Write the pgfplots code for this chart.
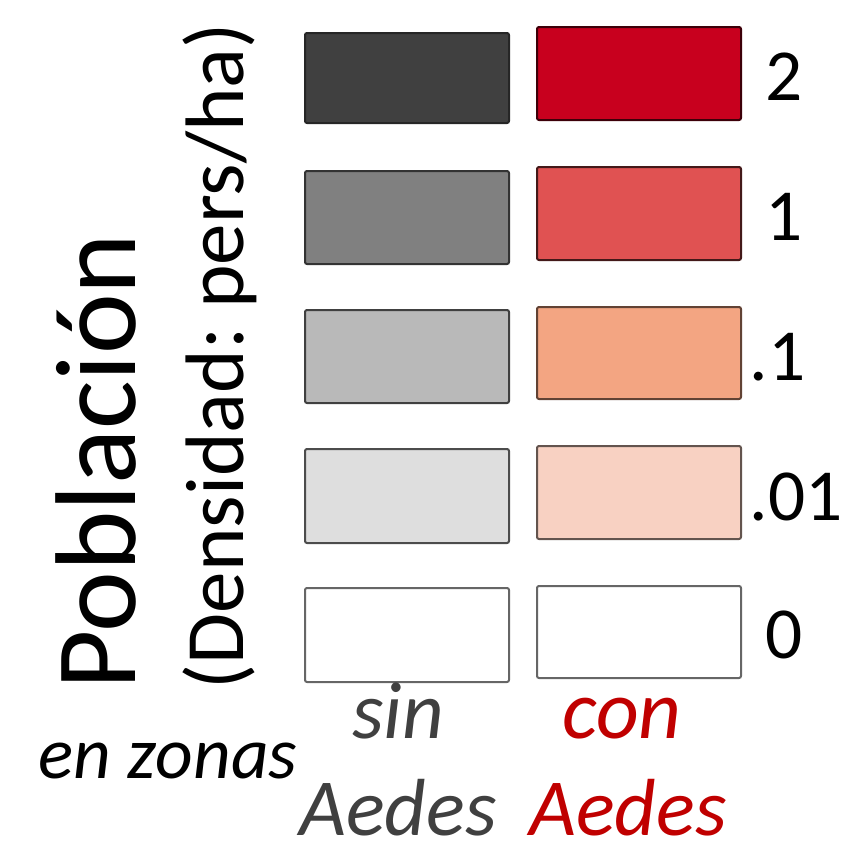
\documentclass[border=0pt]{standalone}
\usepackage{pgfplots}
\pgfplotsset{compat=1.18}
\usepackage{fontspec}
\setmainfont{Carlito}
\frenchspacing
\definecolor{g1}{HTML}{404040}
\definecolor{g2}{HTML}{808080}
\definecolor{g3}{HTML}{B9B9B9}
\definecolor{g4}{HTML}{DEDEDE}
\definecolor{r1}{HTML}{C8001E}
\definecolor{r2}{HTML}{E05252}
\definecolor{r3}{HTML}{F3A582}
\definecolor{r4}{HTML}{F8D1C2}
\definecolor{txtgray}{HTML}{404040}
\definecolor{txtred}{HTML}{C00000}
\begin{document}
\begin{tikzpicture}
\begin{axis}[
  scale only axis, width=260.4pt, height=260.4pt,
  xmin=0, xmax=868, ymin=0, ymax=868, y dir=reverse,
  hide axis, clip=false,
  every axis plot/.append style={line width=0.6pt, rounded corners=0.6pt, mark=none},
]
% sin Aedes column
\addplot[fill=g1, draw=black!85] coordinates {(305,33) (509,33) (509,123) (305,123)} -- cycle;
\addplot[fill=g2, draw=black!80] coordinates {(305,171) (509,171) (509,264) (305,264)} -- cycle;
\addplot[fill=g3, draw=black!75] coordinates {(305,310) (509,310) (509,403) (305,403)} -- cycle;
\addplot[fill=g4, draw=black!70] coordinates {(305,449) (509,449) (509,543) (305,543)} -- cycle;
\addplot[fill=white, draw=black!60] coordinates {(305,588) (509,588) (509,682) (305,682)} -- cycle;
% con Aedes column
\addplot[fill=r1, draw=black!70!r1] coordinates {(537,27) (741,27) (741,120) (537,120)} -- cycle;
\addplot[fill=r2, draw=black!70!r2] coordinates {(537,167) (741,167) (741,260) (537,260)} -- cycle;
\addplot[fill=r3, draw=black!60!r3] coordinates {(537,307) (741,307) (741,399) (537,399)} -- cycle;
\addplot[fill=r4, draw=black!60!r4] coordinates {(537,446) (741,446) (741,539) (537,539)} -- cycle;
\addplot[fill=white, draw=black!60] coordinates {(537,586) (741,586) (741,678) (537,678)} -- cycle;
% value labels
\node[anchor=base west, font=\fontsize{22}{26}\selectfont] at (axis cs:754,100) {2};
\node[anchor=base west, font=\fontsize{22}{26}\selectfont] at (axis cs:754,240) {1};
\node[anchor=base west, font=\fontsize{22}{26}\selectfont] at (axis cs:738,380) {.1};
\node[anchor=base west, font=\fontsize{22}{26}\selectfont] at (axis cs:738,520) {.01};
\node[anchor=base west, font=\fontsize{22}{26}\selectfont] at (axis cs:754,658) {0};
% left titles
\node[rotate=90, anchor=base west, inner sep=0pt, font=\fontsize{34.5}{40}\selectfont] at (axis cs:135,690) {Población};
\node[rotate=90, anchor=base west, inner sep=0pt, font=\fontsize{24.9}{29}\selectfont] at (axis cs:243,690) {(Densidad: pers/ha)};
% bottom labels
\node[anchor=base, inner sep=0pt, font=\fontsize{22}{26}\selectfont\itshape] at (axis cs:168,778) {en zonas};
\node[anchor=base, inner sep=0pt, text=txtgray, font=\fontsize{24.3}{28}\selectfont\itshape] at (axis cs:398,738) {sin};
\node[anchor=base, inner sep=0pt, text=txtred, font=\fontsize{25}{28}\selectfont\itshape] at (axis cs:622,738) {con};
\node[anchor=base, inner sep=0pt, text=txtgray, font=\fontsize{24.3}{28}\selectfont\itshape] at (axis cs:398,835) {Aedes};
\node[anchor=base, inner sep=0pt, text=txtred, font=\fontsize{24.3}{28}\selectfont\itshape] at (axis cs:628,835) {Aedes};
\end{axis}
\pgfresetboundingbox
\useasboundingbox (0,0) rectangle (260.4pt,260.4pt);
\end{tikzpicture}
\end{document}
